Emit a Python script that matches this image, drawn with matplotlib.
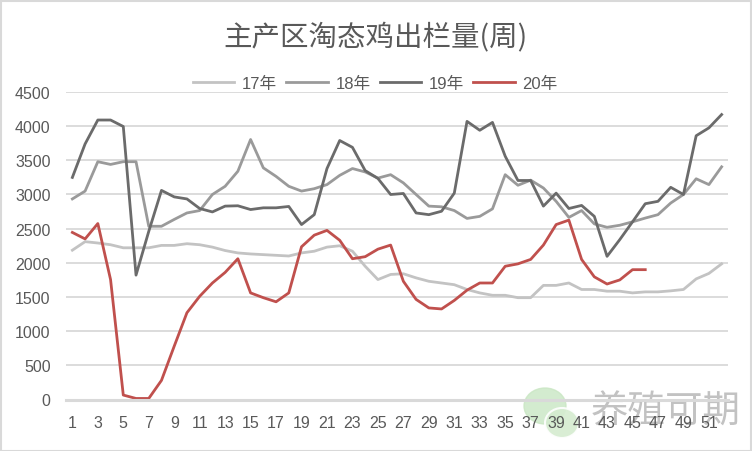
import matplotlib
matplotlib.use("Agg")
import matplotlib.pyplot as plt
from matplotlib.patches import Rectangle, Ellipse

plt.rcParams['font.family'] = ['Liberation Sans', 'Noto Sans CJK SC', 'DejaVu Sans']

weeks = list(range(1, 53))
series_names = ['17年', '18年', '19年', '20年']
y17 = [2185, 2310, 2290, 2265, 2220, 2220, 2220, 2255, 2255, 2280, 2265, 2230, 2180,
       2145, 2130, 2120, 2110, 2100, 2145, 2170, 2230, 2250, 2170, 1950, 1755, 1830,
       1840, 1780, 1730, 1705, 1680, 1610, 1560, 1525, 1525, 1490, 1490, 1670, 1670,
       1705, 1610, 1610, 1585, 1585, 1560, 1575, 1575, 1590, 1610, 1765, 1845, 1985]
y18 = [2935, 3050, 3480, 3440, 3480, 3480, 2535, 2535, 2635, 2730, 2765, 3000, 3120,
       3340, 3805, 3390, 3265, 3120, 3050, 3085, 3145, 3280, 3380, 3330, 3240, 3290,
       3170, 3000, 2830, 2820, 2765, 2650, 2680, 2790, 3290, 3135, 3210, 3095, 2900,
       2665, 2765, 2570, 2520, 2550, 2600, 2655, 2705, 2875, 3000, 3230, 3145, 3405]
y19 = [3250, 3740, 4090, 4090, 3995, 1820, 2460, 3060, 2965, 2935, 2795, 2745, 2830,
       2835, 2780, 2805, 2805, 2825, 2560, 2705, 3380, 3790, 3690, 3350, 3235, 3000,
       3015, 2730, 2705, 2755, 3020, 4070, 3940, 4055, 3560, 3205, 3205, 2830, 3020,
       2795, 2840, 2680, 2095, 2340, 2600, 2865, 2900, 3105, 3000, 3860, 3975, 4170]
y20 = [2445, 2350, 2575, 1755, 65, 15, 15, 280, 780, 1270, 1510, 1705, 1860,
       2060, 1560, 1490, 1430, 1560, 2235, 2405, 2475, 2330, 2060, 2090, 2200, 2260,
       1730, 1465, 1340, 1325, 1450, 1600, 1705, 1705, 1950, 1985, 2050, 2260, 2560,
       2625, 2050, 1795, 1690, 1750, 1900, 1900]
colors = ['#C3C3C3', '#9A9A9A', '#6B6B6B', '#C0504D']
yticks = [0, 500, 1000, 1500, 2000, 2500, 3000, 3500, 4000, 4500]
xtick_labels = [str(w) for w in weeks[::2]]
title = '主产区淘态鸡出栏量(周)'

W, H = 752, 452
fig = plt.figure(figsize=(W / 100, H / 100), dpi=100)
fig.patch.set_facecolor('white')
fig.add_artist(Rectangle((0.5 / W, 0.5 / H), 1 - 2 / W, 1 - 2 / H, transform=fig.transFigure,
                         fill=False, edgecolor='#D9D9D9', linewidth=1.5))

# watermark (behind the chart texts)
fig.add_artist(Ellipse((545 / W, (H - 407) / H), 42 / W, 36 / H, transform=fig.transFigure,
                       color='#C9E6C3', alpha=0.8, zorder=-3))
fig.add_artist(Ellipse((562 / W, (H - 424) / H), 34 / W, 30 / H, transform=fig.transFigure,
                       facecolor='#D5ECD0', edgecolor='white', linewidth=1.5, alpha=0.9, zorder=-2))
fig.text(666 / W, (H - 412) / H, '养殖可期', ha='center', va='center', fontsize=27,
         color='#A8A8A8', alpha=0.7, family=['Noto Sans CJK SC'], zorder=-1)

ax = fig.add_axes([66 / W, (H - 400.5) / H, (728 - 66) / W, (400.5 - 93) / H])
ax.patch.set_alpha(0)
for name, ys, c in zip(series_names, [y17, y18, y19, y20], colors):
    ax.plot(weeks[:len(ys)], ys, color=c, linewidth=2.0, label=name, solid_joinstyle='round')

ax.set_xlim(0.5, 52.5)
ax.set_ylim(0, 4500)
ax.set_yticks(yticks)
ax.set_yticklabels([str(v) for v in yticks])
ax.set_xticks(weeks[::2])
ax.set_xticklabels(xtick_labels)
ax.tick_params(axis='both', length=0, labelsize=11.5, labelcolor='#595959')
ax.tick_params(axis='y', pad=11)
ax.tick_params(axis='x', pad=11)
ax.grid(axis='y', color='#D9D9D9', linewidth=1.3)
ax.set_axisbelow(True)
for s in ['top', 'right', 'left']:
    ax.spines[s].set_visible(False)
ax.spines['bottom'].set_color('#D9D9D9')
ax.spines['bottom'].set_linewidth(2.2)

fig.text(0.5, (H - 37) / H, title, ha='center', va='center', fontsize=20.5,
         color='#595959', family=['Noto Sans CJK SC'])

leg = fig.legend(loc='center', bbox_to_anchor=(0.499, (H - 84) / H), ncol=4, frameon=False,
                 fontsize=12, handlelength=2.5, handletextpad=0.45, columnspacing=0.55)
for t in leg.get_texts():
    t.set_color('#595959')

fig.savefig('out.png', dpi=100, facecolor='white')
